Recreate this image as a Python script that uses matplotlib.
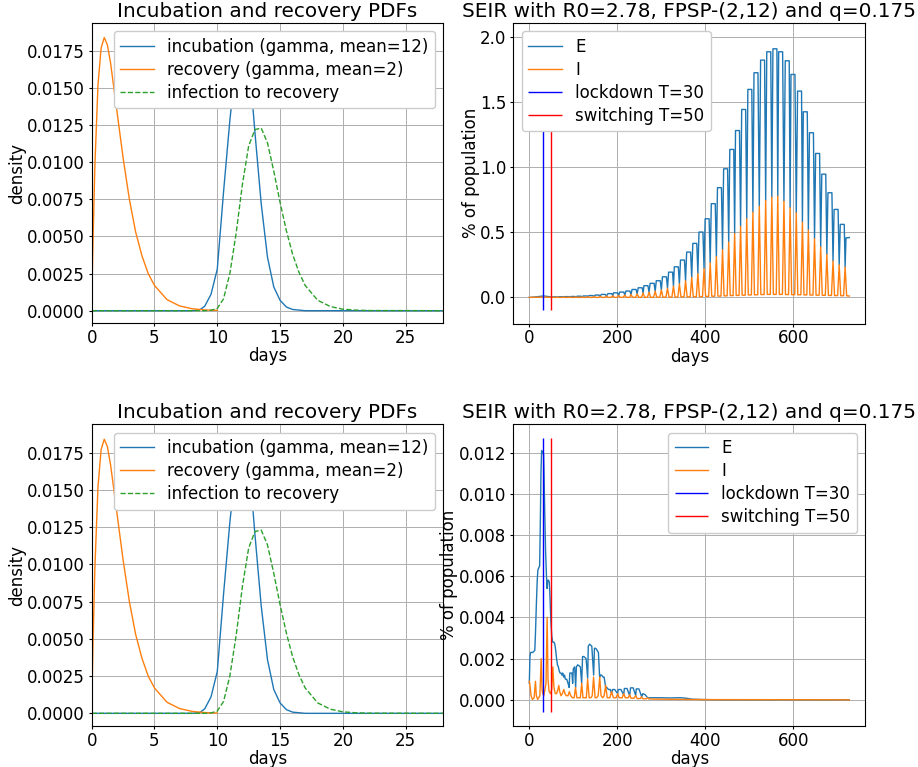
import numpy as np
import matplotlib.pyplot as plt

plt.rcParams['font.size'] = 12
plt.rcParams['lines.linewidth'] = 1.0
plt.rcParams['grid.linewidth'] = 0.72
plt.rcParams['xtick.major.size'] = 2.5
plt.rcParams['ytick.major.size'] = 2.5
plt.rcParams['xtick.major.pad'] = 1.6
plt.rcParams['ytick.major.pad'] = 2.5
plt.rcParams['axes.labelpad'] = 0.3
plt.rcParams['axes.titlepad'] = 4.3
plt.rcParams['legend.framealpha'] = 1.0
plt.rcParams['legend.labelspacing'] = 0.3

# ---------------- left column: delay PDFs ----------------
rec_days = [0, 0.05, 0.1, 0.25, 0.5, 0.75, 1.0, 1.25, 1.5, 2.0, 2.5, 3.0, 3.5, 4.0,
            4.5, 5.0, 6.0, 7.0, 8.0, 9.0, 10.0]
rec_pdf = [0, 0.0024, 0.0045, 0.0097, 0.0152, 0.0177, 0.0184, 0.0179, 0.0167, 0.0135,
           0.0103, 0.0075, 0.0053, 0.0037, 0.0025, 0.0017, 0.00074, 0.00032, 0.00013,
           0.00005, 0.00002]

inc_days = [0, 8.0, 8.6, 9.0, 9.5, 10.0, 10.5, 11.0, 11.5, 12.0, 12.5, 13.0, 13.5,
            14.0, 14.5, 15.0, 15.5, 16.0, 17.0, 28.0]
inc_pdf = [0, 0, 0.00005, 0.0003, 0.0011, 0.0028, 0.0080, 0.0128, 0.0168, 0.0185,
           0.0172, 0.0120, 0.0072, 0.0036, 0.0016, 0.0007, 0.00025, 0.00008, 0, 0]

itr_days = [0, 9.0, 9.5, 10.0, 10.5, 11.0, 11.5, 12.0, 12.5, 13.0, 13.5, 14.0, 14.5,
            15.0, 15.5, 16.0, 16.5, 17.0, 18.0, 19.0, 20.0, 21.0, 22.0, 28.0]
itr_pdf = [0, 0, 0.00003, 0.00015, 0.0008, 0.0025, 0.0052, 0.0085, 0.0111, 0.0122,
           0.0123, 0.0113, 0.0094, 0.0073, 0.0054, 0.0038, 0.0026, 0.0017, 0.0007,
           0.00028, 0.0001, 0.00004, 0.00001, 0]

# ---------------- top right: SEIR, oscillating run ----------------
top_pre_E_days = [0, 5, 15, 25, 30, 35, 42, 47]
top_pre_E = [0, 0.001, 0.004, 0.008, 0.010, 0.010, 0.007, 0.004]
top_pre_I_days = [0, 10, 25, 35, 42]
top_pre_I = [0, 0.0005, 0.002, 0.003, 0.002]

# trough k comes just before peak k
top_trough_day = [50, 64, 78, 92, 106, 120, 133.5, 147, 161, 175.5, 189.5, 203, 217,
                  231, 245, 258.5, 272, 286, 300, 314, 327.5, 341, 355, 369, 383, 397,
                  411, 425, 439, 453, 466.5, 480, 494, 508, 522.5, 537, 551, 564.5,
                  578.5, 592.5, 606.5, 620.5, 634, 648, 662, 676, 690, 704, 717.5]
top_trough_val = [0.003, 0.0018, 0.0022, 0.0026, 0.0032, 0.004, 0.005, 0.0064, 0.0082,
                  0.0104, 0.0128, 0.0152, 0.018, 0.022, 0.027, 0.033, 0.040, 0.047,
                  0.057, 0.070, 0.086, 0.104, 0.127, 0.153, 0.183, 0.221, 0.265, 0.313,
                  0.366, 0.425, 0.490, 0.545, 0.604, 0.655, 0.701, 0.745, 0.770, 0.778,
                  0.740, 0.689, 0.650, 0.578, 0.517, 0.451, 0.387, 0.330, 0.279, 0.250,
                  0.233]
top_peak_day = [57, 71, 85, 99, 113, 127, 140, 154, 168, 183, 196, 210, 224, 238, 252,
                265, 279, 293, 307, 321, 334, 348, 362, 376, 390, 404, 418, 432, 446,
                460, 473, 487, 501, 515, 530, 544, 558, 571, 586, 599, 614, 627, 641,
                655, 669, 683, 697, 711, 724]
top_E_peak = [0.004, 0.005, 0.006, 0.007, 0.009, 0.011, 0.014, 0.018, 0.023, 0.029,
              0.035, 0.041, 0.049, 0.061, 0.074, 0.090, 0.108, 0.128, 0.158, 0.194,
              0.235, 0.287, 0.348, 0.415, 0.502, 0.604, 0.720, 0.843, 0.988, 1.137,
              1.282, 1.444, 1.598, 1.726, 1.823, 1.887, 1.910, 1.887, 1.818, 1.713,
              1.585, 1.426, 1.265, 1.106, 0.947, 0.804, 0.676, 0.561, 0.458]
top_I_base = [0.0001, 0.0001, 0.0001, 0.0001, 0.0001, 0.0002, 0.0002, 0.0002, 0.0003,
              0.0004, 0.0005, 0.0005, 0.0006, 0.0008, 0.001, 0.0012, 0.0014, 0.0017,
              0.002, 0.0025, 0.003, 0.004, 0.0045, 0.005, 0.006, 0.008, 0.009, 0.010,
              0.012, 0.014, 0.015, 0.017, 0.019, 0.020, 0.022, 0.023, 0.023, 0.023,
              0.022, 0.021, 0.020, 0.019, 0.018, 0.017, 0.016, 0.015, 0.014, 0.013,
              0.012]
top_end_day, top_end_E, top_end_I = 727, 0.46, 0.01

# ---------------- bottom right: SEIR, suppressed run ----------------
bot_E_days = [0, 1.5, 3, 8, 12.5, 14, 16, 18, 19.5, 23.5, 25, 26.5, 28, 31, 32.5, 33.5,
              35, 37, 39, 40.5, 42, 44, 45.5, 47, 49, 51, 53, 56, 58, 60, 62, 64, 66,
              68, 70, 72, 74, 76, 78, 80, 82, 85, 88, 90.5, 92, 97, 98.5, 100, 103,
              105.3, 107, 110, 116, 119, 121, 124, 129, 132.6, 134, 137, 142, 146.2,
              148, 151, 157, 159.8, 161, 164, 168, 170, 173.5, 176, 180, 184, 187, 189,
              194, 200.7, 202, 208, 214.4, 216, 222, 228, 230, 236, 241.7, 243, 249,
              255.3, 258, 263, 269, 275, 300, 320, 335, 345, 355, 370, 400, 450, 727]
bot_E = [0.0008, 0.0021, 0.0023, 0.0023, 0.0024, 0.0032, 0.0046, 0.0058, 0.0063, 0.0065,
         0.0085, 0.0110, 0.0121, 0.0120, 0.0119, 0.0110, 0.0092, 0.0072, 0.0060, 0.0054,
         0.0058, 0.0058, 0.0057, 0.0050, 0.0038, 0.0031, 0.0028, 0.0028, 0.0027, 0.0024,
         0.0020, 0.0017, 0.0016, 0.0014, 0.0013, 0.0013, 0.0012, 0.0013, 0.0011, 0.0012,
         0.0010, 0.0010, 0.0008, 0.0006, 0.0013, 0.0013, 0.0008, 0.0015, 0.0016, 0.0006,
         0.0016, 0.0017, 0.0016, 0.0008, 0.0021, 0.0021, 0.0020, 0.00105, 0.0026, 0.0027,
         0.0026, 0.0012, 0.0025, 0.0025, 0.0023, 0.0011, 0.0012, 0.0012, 0.0011, 0.0011,
         0.0006, 0.0006, 0.0005, 0.0005, 0.0003, 0.0005, 0.0005, 0.0003, 0.0005, 0.0005,
         0.00025, 0.00055, 0.00055, 0.0002, 0.00058, 0.00058, 0.0002, 0.00053, 0.00053,
         0.00015, 0.0003, 0.00025, 0.0001, 0.0001, 0.0001, 0.00009, 0.0001, 0.0001,
         0.00008, 0.00003, 0.00001, 0.0, 0.0]
bot_I_days = [0, 1, 4, 7, 11, 14, 16, 19, 24, 27, 29, 30.5, 33, 38, 40.5, 42.5, 45, 48,
              51, 53.5, 56, 59, 62, 65, 67, 69, 72, 75, 78.5, 81, 84, 88, 91, 94, 98,
              102, 105, 108, 112, 116, 119, 122, 126, 129.5, 132.5, 136, 140, 143, 146,
              149.5, 153, 156.5, 160, 163, 167, 170, 173.5, 177, 183, 187, 191, 197,
              201, 204, 211, 214.5, 218, 225, 228, 231, 238, 242, 245, 252, 255, 258,
              266, 269, 272, 300, 400, 727]
bot_I = [0.0009, 0.0008, 0.0002, 0.00002, 0.0001, 0.0009, 0.0002, 0.00002, 0.0002, 0.0020,
         0.0005, 0.0003, 0.0002, 0.0008, 0.0040, 0.0010, 0.0004, 0.0003, 0.0005, 0.0016,
         0.0006, 0.0003, 0.0003, 0.0005, 0.0007, 0.0004, 0.0002, 0.0003, 0.0005, 0.0003,
         0.0002, 0.0002, 0.0004, 0.0002, 0.0001, 0.0001, 0.0006, 0.0001, 0.0001, 0.0001,
         0.0008, 0.0001, 0.0001, 0.0001, 0.0010, 0.0001, 0.0001, 0.0002, 0.0011, 0.0001,
         0.0001, 0.0002, 0.0011, 0.0002, 0.0001, 0.0002, 0.0007, 0.0001, 0.0001, 0.0004,
         0.0001, 0.0001, 0.0003, 0.0001, 0.0001, 0.0003, 0.0001, 0.0001, 0.00025, 0.00008,
         0.00008, 0.0002, 0.00006, 0.00006, 0.00015, 0.00005, 0.00005, 0.0001, 0.00004,
         0.00003, 0.00001, 0.0]

T_lockdown, T_switch = 30, 50


def build_top():
    ex, ey = list(top_pre_E_days), list(top_pre_E)
    ix, iy = list(top_pre_I_days), list(top_pre_I)
    base_prev = top_I_base[0]
    for k in range(len(top_peak_day)):
        tr, p = top_trough_day[k], top_peak_day[k]
        pk, tv = top_E_peak[k], top_trough_val[k]
        ex += [tr, p - 4.5, p, p + 4.5]
        ey += [tv, pk, pk, pk]
        ix += [tr - 3.5, tr, tr + 3.5, p]
        iy += [base_prev, tv, top_I_base[k], top_I_base[k]]
        base_prev = top_I_base[k]
    ex, ey = np.array(ex), np.array(ey)
    ix, iy = np.array(ix), np.array(iy)
    m, n = ex < top_end_day, ix < top_end_day
    ex, ey = np.append(ex[m], top_end_day), np.append(ey[m], top_end_E)
    ix, iy = np.append(ix[n], top_end_day), np.append(iy[n], top_end_I)
    return ex, ey, ix, iy


def pdf_panel(ax):
    ax.plot(inc_days, inc_pdf, color='C0', label='incubation (gamma, mean=12)')
    ax.plot(rec_days, rec_pdf, color='C1', label='recovery (gamma, mean=2)')
    ax.plot(itr_days, itr_pdf, color='C2', ls='--', label='infection to recovery')
    ax.set_xlim(0, 28)
    ax.set_ylim(-0.00085, 0.0194)
    ax.set_xlabel('days')
    ax.set_ylabel('density')
    ax.set_title('Incubation and recovery PDFs', fontsize=14.4)
    ax.grid(True)
    ax.legend(loc='upper right')


def seir_panel(ax, ex, ey, ix, iy, loc):
    ax.plot(ex, ey, color='C0', label='E')
    ax.plot(ix, iy, color='C1', label='I')
    M = max(ey)
    ax.vlines(T_lockdown, -0.05 * M, 1.05 * M, colors='b', label='lockdown T=%d' % T_lockdown)
    ax.vlines(T_switch, -0.05 * M, 1.05 * M, colors='r', label='switching T=%d' % T_switch)
    ax.set_xlabel('days')
    ax.set_ylabel('% of population')
    ax.set_title('SEIR with R0=2.78, FPSP-(2,12) and q=0.175', fontsize=14.4)
    ax.grid(True)
    ax.legend(loc=loc)


W, H = 918, 767
DPI = 100
fig = plt.figure(figsize=(W / DPI, H / DPI), dpi=DPI)


def rect(x0, y0, x1, y1):
    return [x0 / W, 1 - y1 / H, (x1 - x0) / W, (y1 - y0) / H]


ax1 = fig.add_axes(rect(91.7, 22.7, 443.3, 323.3))
ax2 = fig.add_axes(rect(513.3, 22.7, 865.3, 323.5))
ax3 = fig.add_axes(rect(91.7, 424.3, 443.3, 726))
ax4 = fig.add_axes(rect(513.3, 424.3, 865.3, 726))

pdf_panel(ax1)
pdf_panel(ax3)
seir_panel(ax2, *build_top(), loc='upper left')
seir_panel(ax4, bot_E_days, bot_E, bot_I_days, bot_I, loc='upper right')

fig.savefig('out.png', dpi=DPI)
